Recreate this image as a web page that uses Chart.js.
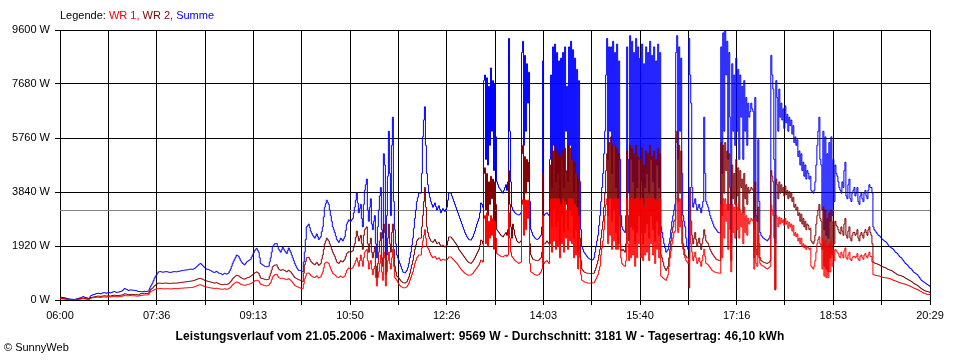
<!DOCTYPE html>
<html>
<head>
<meta charset="utf-8">
<script src="https://cdn.jsdelivr.net/npm/chart.js"></script>
<style>
html,body{margin:0;padding:0;background:#ffffff;}
#c{display:block;}
</style>
</head>
<body>
<canvas id="c" width="960" height="360"></canvas>
<script>
// ---------- data ----------
const xTickLabels = ['06:00','07:36','09:13','10:50','12:26','14:03','15:40','17:16','18:53','20:29'];
const dayMinutes = 869;        // 06:00 .. 20:29
const xGridIntervals = 18;
const sampleStepMin = 1;       // one value per minute, starting 06:00
const yMaxW = 9600;
const yStepW = 1920;
const dateStr = '21.05.2006';
const maxW = 9569;
const avgW = 3181;
const yieldKWh = '46,10';

// WR 1 (W), one line = 30 minutes
const wr1 = [
40,40,40,38,35,30,25,20,15,12,10,10,10,10,10,15,20,25,30,32,35,42,50,52,45,40,35,30,25,30,
60,70,80,85,90,95,100,100,100,95,90,100,110,110,110,105,100,110,120,115,110,115,120,125,130,120,110,115,120,120,
120,130,140,150,160,155,150,150,150,155,160,155,150,150,150,145,140,140,140,150,160,165,170,175,180,180,180,185,190,250,
300,315,330,350,370,385,400,400,400,405,410,405,400,400,400,400,400,400,400,395,390,395,400,405,410,405,400,405,410,415,
420,420,420,425,430,430,430,435,440,440,440,445,450,460,470,485,500,515,530,535,540,525,510,495,480,470,460,455,450,440,
430,425,420,415,410,415,420,410,400,395,390,385,380,390,400,390,380,390,400,425,450,500,540,570,600,620,640,630,620,590,
560,550,540,530,520,530,540,550,560,570,580,600,620,650,680,690,700,690,680,620,560,550,540,525,510,505,500,510,520,570,
620,720,820,860,900,910,920,860,800,780,760,770,780,765,750,735,720,740,760,730,700,660,620,570,520,500,480,465,450,435,
420,410,400,575,750,850,950,955,960,920,880,850,820,810,800,830,860,820,780,805,830,915,1000,1150,1300,1325,1350,1325,1300,1200,
1100,1025,950,925,900,860,820,810,800,825,850,825,800,825,850,950,1050,1095,1140,1120,1100,1125,1150,1225,1300,1400,1500,1350,1200,1400,
1600,1400,1200,1500,1700,1750,1800,1400,1100,1300,1400,1100,900,1100,1200,800,500,800,1000,1300,1600,1000,700,1700,1500,500,1000,1400,1700,1300,
1100,1500,1800,1200,800,750,700,630,560,520,480,460,440,435,430,450,470,530,600,700,800,900,1000,1150,1300,1400,1500,1550,1600,1600,
1600,1850,2100,2300,2500,2200,1900,1850,1780,1690,1600,1550,1500,1525,1550,1500,1450,1475,1500,1450,1400,1425,1450,1435,1420,1425,1430,1480,1530,1530,
1530,1490,1450,1415,1380,1340,1300,1250,1200,1150,1100,1060,1020,985,950,925,900,890,880,885,890,920,950,1000,1050,1100,1150,1200,1250,1330,
1420,1400,1350,2900,3000,2000,3100,1900,2800,2200,3000,2300,2900,1800,2800,2200,1650,1620,1600,1575,1550,1540,1530,1560,1580,1600,1550,1600,3100,2200,
1700,1550,1500,1450,1400,1375,1350,1325,1300,1325,1350,3400,3560,2300,3560,2500,3550,2900,3560,1300,1000,975,950,925,900,890,880,890,900,950,
1000,1100,3000,1300,1350,1375,1400,1350,1300,2000,3600,1700,3600,2100,3600,1800,3600,1900,3600,1500,3400,2000,3600,1700,3500,2200,3200,1800,3600,2100,
3600,2000,3600,1500,3400,1600,3300,1100,3000,1500,900,700,675,650,635,620,610,600,600,600,600,605,610,615,680,750,825,900,1050,1200,
1600,1850,2100,2500,3000,3400,3600,2000,3600,2300,3600,1800,3600,2100,3600,1800,3600,1800,3600,2000,1500,1300,1250,1220,1200,1400,3600,2000,1400,3600,
1500,3600,1600,3600,1200,3600,1500,3600,2000,3600,1500,3600,1400,3300,1600,3600,1700,3600,1400,3600,2000,3600,1600,3600,1300,3500,1800,3600,1500,3600,
850,820,780,750,720,700,800,900,1200,1500,1750,2000,2200,2400,2450,3600,3600,2400,3600,2600,3600,2000,1800,1600,1500,1400,1350,1300,1500,2800,
2000,1700,1400,1550,1700,1500,1300,1400,1500,1350,1200,1400,1600,1800,1550,1300,1275,1250,1200,1150,1100,1050,1025,1000,990,980,970,960,955,950,
3400,1500,3600,2200,3600,2800,3400,1800,3400,2500,1000,3400,2400,3300,2200,3450,2500,3300,2200,3200,2600,3100,2000,3300,2400,3000,2300,2900,2700,2800,
2900,2850,2800,1100,2900,1300,1200,2300,1500,1300,1250,1225,1200,1175,1150,1125,1100,1125,1150,1200,3380,3200,3000,2200,400,3000,2900,2600,2950,2700,
2900,2750,2850,2650,2900,2700,2800,2550,2750,2600,2700,2450,2650,2300,2400,2250,2350,2100,2200,2000,2200,1900,2000,1850,1950,1800,1900,1850,1800,1850,
1200,1150,1100,1200,1400,1700,2000,2150,2250,2000,1900,1100,2200,850,2100,800,1900,800,2000,1000,2100,1200,1800,1400,1800,1750,1700,1650,1550,1500,
1700,1600,1500,1750,1850,1500,1450,1600,1700,1450,1400,1500,1550,1550,1500,1550,1650,1450,1400,1550,1600,1500,1450,1600,1650,1550,1500,1600,1700,1550,
1550,1350,900,890,880,870,860,855,850,835,820,810,800,795,790,785,780,770,760,750,740,720,700,690,680,665,650,635,620,605,
600,590,580,570,560,545,530,515,500,485,470,450,430,415,400,385,370,350,330,310,290,270,250,235,220,210,200,195,190,180
];

// WR 2 (W)
const wr2 = [
55,55,50,48,45,40,35,30,25,22,20,18,15,12,10,15,20,25,30,38,45,52,60,65,55,50,45,40,35,40,
80,90,100,105,110,120,130,135,140,135,130,135,140,145,150,145,140,145,150,145,140,150,160,165,170,165,160,160,160,165,
170,175,180,200,220,215,210,200,190,195,200,200,200,195,190,190,190,185,180,200,220,225,230,235,240,235,230,235,240,300,
370,395,420,460,500,530,560,580,600,600,600,595,590,595,600,600,600,595,590,590,590,595,600,600,600,600,600,605,610,615,
620,625,630,635,640,645,650,655,660,665,670,675,680,690,700,715,730,745,760,765,770,755,740,720,700,690,680,670,660,650,
640,630,620,610,600,610,620,600,580,570,560,550,540,550,560,555,550,565,580,615,650,700,760,790,820,850,880,870,860,830,
800,780,760,750,740,760,780,790,800,820,840,870,900,930,960,980,1000,975,950,865,780,770,760,750,740,730,720,730,740,845,
950,1065,1180,1210,1240,1245,1250,1175,1100,1075,1050,1065,1080,1065,1050,1025,1000,1030,1060,1030,1000,950,900,850,800,780,760,740,720,710,
700,675,650,950,1250,1375,1500,1510,1520,1450,1380,1340,1300,1275,1250,1295,1340,1285,1230,1265,1300,1450,1600,1800,2000,2100,2200,2150,2100,2000,
1900,1800,1700,1625,1550,1450,1350,1325,1300,1350,1400,1375,1350,1400,1450,1550,1650,1685,1720,1710,1700,1725,1750,1875,2000,2225,2450,2275,2100,2200,
2300,2000,1800,2300,2500,2550,2600,2000,1700,2000,2200,1700,1500,1700,1900,1200,800,1300,1700,2100,2400,1500,1200,2700,2400,900,1600,2200,2700,2000,
1700,2400,2700,1800,1200,1000,850,820,780,730,680,650,620,610,600,620,650,730,820,950,1100,1250,1400,1600,1800,1950,2100,2150,2200,2200,
2200,2600,3000,3500,4000,3300,2600,2400,2250,2175,2100,2075,2050,2100,2150,2075,2000,2025,2050,1975,1900,1925,1950,1915,1880,1915,1950,2100,2240,2240,
2240,2195,2150,2100,2050,2000,1950,1875,1800,1750,1700,1650,1600,1550,1500,1450,1400,1365,1330,1315,1300,1340,1380,1440,1500,1575,1650,1725,1800,1950,
2130,2100,2000,4500,4700,3200,4500,3000,4200,3400,4400,3600,4300,2800,4200,3400,2500,2450,2400,2350,2300,2270,2240,2300,2350,2400,2300,2500,4600,3400,
2600,2200,2700,2500,2300,2200,2100,2060,2030,2060,2100,5200,5500,3500,5100,3800,5000,4200,4900,2000,1600,1520,1450,1430,1420,1410,1400,1410,1420,1460,
1500,1700,4500,2000,2000,2050,2100,2050,2000,3000,4800,2600,5300,3200,5500,2600,5300,2800,5200,2000,5100,3000,5300,2400,5400,3400,4600,2500,5500,3200,
5400,3000,5000,2200,4900,2500,4500,1700,4300,2200,1400,1100,1050,1000,980,960,955,950,945,940,940,945,950,960,1050,1150,1275,1400,1600,1800,
2200,2500,2800,3300,3800,4600,5200,3000,5600,3600,5800,2800,5500,3200,5500,2400,5400,2000,5200,3000,1800,1750,1800,1750,1700,2000,5300,3000,2100,5500,
2600,5400,2500,5200,2000,5500,2400,5100,3000,5000,2400,5400,2000,4800,2400,5300,2700,5200,2200,5500,3000,5100,2500,5300,2100,5000,2800,5400,2300,5200,
1600,1500,1350,1200,1120,1050,1120,1200,1500,1800,2100,2400,2600,2800,2850,5600,6000,3500,5500,3800,5300,2800,2000,1800,1600,1550,1500,1500,430,4000,
2800,2300,2000,2200,2400,2150,1900,2050,2200,2000,1800,2000,2200,2500,2300,2100,2050,2000,1900,1800,1725,1650,1600,1550,1500,1450,1430,1420,1410,1400,
5600,3000,5500,3800,5600,4600,5300,3200,5200,4000,1400,4800,3600,4500,3400,5000,3700,4700,3200,4600,4000,4300,3100,4500,3600,4100,3400,4000,3800,3900,
4000,3950,3900,1500,4200,1800,1600,3300,2000,1500,1400,1375,1350,1330,1320,1310,1300,1325,1350,1400,4600,4400,4200,3000,360,4300,4100,3600,4200,3800,
4100,3850,4000,3700,4050,3750,3900,3600,3850,3650,3800,3500,3650,3300,3400,3200,3300,3000,3100,2800,3050,2700,2900,2600,2800,2500,2700,2650,2500,2550,
2100,2050,2000,2100,2300,2700,3000,3200,3400,2900,2800,1800,3300,1200,3200,1100,2900,1000,3100,1500,3200,1600,2800,2000,2800,2650,2600,2500,2400,2350,
2600,2450,2300,2700,2900,2300,2200,2450,2600,2200,2100,2300,2400,2400,2300,2350,2500,2200,2100,2300,2400,2300,2200,2400,2500,2400,2300,2500,2600,2400,
2300,2000,1350,1320,1300,1290,1280,1265,1250,1225,1200,1185,1170,1160,1150,1125,1100,1085,1070,1060,1050,1025,1000,975,950,925,900,890,880,870,
860,840,830,805,780,760,740,720,700,680,660,630,600,580,560,540,520,490,460,430,400,380,360,340,320,310,300,290,280,260
];

// Summe (W)
const summe = [
95,95,90,85,80,70,60,50,40,35,30,28,25,22,20,25,40,50,60,70,80,95,110,120,100,90,80,70,60,70,
140,160,180,190,200,215,230,235,240,230,220,235,250,255,260,250,240,255,270,260,250,265,280,290,300,285,270,275,280,290,
300,315,330,370,410,395,380,360,340,350,360,355,350,345,340,335,330,315,300,300,300,295,290,300,310,305,300,310,320,400,
480,540,600,690,780,840,900,950,1000,1005,1010,1000,990,995,1000,1005,1010,1000,990,985,980,990,1000,1005,1010,1005,1000,1010,1020,1025,
1030,1040,1050,1055,1060,1065,1070,1075,1080,1090,1100,1095,1090,1105,1120,1150,1180,1215,1250,1280,1300,1265,1230,1190,1150,1125,1100,1090,1080,1065,
1050,1025,1000,990,980,1000,1020,990,960,950,940,920,900,925,950,935,920,940,960,1030,1100,1200,1300,1380,1450,1520,1600,1580,1550,1480,
1400,1350,1300,1275,1250,1300,1350,1375,1400,1425,1450,1525,1600,1675,1750,1800,1840,1770,1700,1500,1300,1275,1250,1225,1200,1190,1180,1190,1200,1350,
1500,1700,1900,1950,2000,2005,2010,1900,1800,1750,1700,1790,1880,1815,1750,1700,1650,1750,1850,1775,1700,1600,1500,1400,1300,1225,1150,1100,1050,1050,
1050,1020,1000,1350,1700,2150,2600,2650,2700,2575,2450,2375,2300,2250,2200,2275,2350,2250,2150,2200,2250,2425,2600,2950,3300,3425,3550,3475,3400,3200,
3000,2800,2600,2500,2400,2275,2150,2100,2050,2125,2200,2150,2100,2175,2250,2475,2700,2775,2850,2825,2800,2850,2900,3100,3300,3550,3800,3450,3100,3250,
3400,2900,2600,3400,3900,4100,4300,3200,2800,3300,3600,2700,2500,2800,3000,2000,1500,2600,3200,3700,4000,2500,2200,5200,4800,1600,3000,4400,6000,4500,
3000,5500,6500,3500,2500,2000,1600,1500,1400,1300,1200,1100,1000,980,960,1000,1050,1150,1300,1500,1700,1950,2200,2550,2900,3200,3500,3650,3800,3800,
3800,4500,5800,6400,6870,5500,4500,4100,3800,3650,3500,3400,3300,3375,3450,3325,3200,3275,3350,3225,3100,3175,3250,3200,3150,3225,3300,3550,3800,3800,
3800,3700,3600,3500,3400,3300,3200,3100,3000,2900,2800,2700,2600,2500,2400,2325,2250,2200,2150,2140,2130,2190,2250,2350,2450,2575,2700,2800,2900,3100,
3450,3400,3300,7800,8000,5000,7900,4800,7600,5500,8250,6000,7800,4600,7700,5800,4200,4100,4000,3950,3900,3850,3800,3900,4000,4100,3900,4200,9300,6000,
4200,3300,3200,3150,3100,3070,3050,3030,3020,3050,3100,8800,9200,5500,8700,6000,8400,7000,8100,3500,2500,2400,2300,2250,2200,2170,2150,2170,2200,2250,
2300,2600,8500,3000,3050,3080,3100,3050,3000,5000,8000,4000,9000,5500,9100,4200,8800,4500,8500,3500,8600,5000,8800,4000,9000,6000,7600,4200,9000,5500,
9200,5000,8900,3800,8600,4500,8200,3000,7800,4200,2500,1900,1800,1700,1650,1600,1550,1500,1470,1450,1430,1420,1440,1500,1700,1900,2100,2300,2650,3000,
3500,4000,4500,5200,6000,8000,9300,5000,9000,6000,9000,4500,9200,5500,8800,4000,9100,3500,8500,5000,3000,2600,2500,2450,2400,3000,9000,5000,3800,9400,
5000,9200,4200,8800,3600,9300,4000,9000,5000,8600,4200,9100,3500,8400,4000,9000,4500,8800,3800,9200,5000,8700,4200,9000,3600,8500,4800,9100,4000,8800,
2600,2400,2200,2000,1850,1700,1750,1800,2000,2200,2500,2800,3000,3200,3400,8800,9400,5000,9000,6000,8600,4500,3000,2800,2600,2200,1900,1800,9300,8000,
7000,4000,3300,3450,3600,3400,3200,3300,3400,3250,3100,3300,3500,6500,4500,3500,3400,3300,3150,3000,2900,2800,2700,2600,2550,2500,2450,2400,2390,2380,
9000,4500,9500,6000,9569,8000,9200,5000,8800,6500,2000,8400,6000,8000,5500,8600,6000,8200,5000,8000,6500,7600,5000,7800,6000,7200,5500,7000,6500,6700,
7000,6800,6700,2500,7200,3000,2800,5700,3500,2400,2300,2250,2200,2180,2150,2130,2100,2150,2200,2300,8700,8000,7500,5000,2000,7800,7200,6000,7500,6500,
7000,6400,6800,6100,6900,6300,6600,6000,6500,6200,6400,5900,6200,5600,5800,5500,5700,5100,5300,4800,5200,4600,4900,4400,4800,4300,4600,4500,4300,4400,
3900,3850,3800,3900,4200,4800,5500,6000,6500,5000,4800,3200,6000,2500,5800,2300,5200,2200,5600,2800,5800,3000,5000,3500,4800,4500,4400,4200,4000,3900,
3800,4200,4000,4600,4900,3700,3600,4100,4300,3600,3500,3800,3900,4000,3700,3800,4000,3500,3400,3700,3800,3600,3500,3800,3900,3700,3600,3900,4100,4000,
4000,3800,2600,2500,2450,2400,2350,2300,2280,2250,2200,2150,2130,2100,2080,2050,2000,1950,1900,1880,1850,1830,1800,1750,1700,1680,1650,1600,1550,1520,
1500,1450,1400,1350,1300,1275,1250,1200,1150,1125,1100,1050,1000,975,950,925,900,850,800,750,700,675,650,625,600,575,550,525,500,470
];

// ---------- texts ----------
const legendParts = [
  ['Legende: ', '#000000'],
  ['WR 1, ', '#ff0000'],
  ['WR 2, ', '#800000'],
  ['Summe', '#0000ff']
];
const titleText = 'Leistungsverlauf vom ' + dateStr + ' - Maximalwert: ' + maxW + ' W - Durchschnitt: ' + avgW + ' W - Tagesertrag: ' + yieldKWh + ' kWh';
const copyrightText = '\u00A9 SunnyWeb';

// ---------- chart ----------
const FONT = '"Liberation Sans", Arial, sans-serif';
Chart.defaults.font.family = FONT;
Chart.defaults.font.size = 11;
Chart.defaults.color = '#000000';

const toPoints = arr => arr.map((v, i) => ({ x: i * sampleStepMin, y: v }));

const bgPlugin = {
  id: 'bg',
  beforeDraw(chart) {
    const c = chart.ctx;
    c.save();
    c.fillStyle = '#ffffff';
    c.fillRect(0, 0, chart.width, chart.height);
    c.restore();
  }
};

const textPlugin = {
  id: 'texts',
  afterDraw(chart) {
    const c = chart.ctx;
    c.save();
    c.textBaseline = 'middle';
    c.textAlign = 'left';
    c.font = '11px ' + FONT;
    let x = 60;
    for (const [t, col] of legendParts) {
      c.fillStyle = col;
      c.fillText(t, x, 16);
      x += c.measureText(t).width;
    }
    c.fillStyle = '#000000';
    c.font = 'bold 12px ' + FONT;
    c.textAlign = 'center';
    if ('letterSpacing' in c) c.letterSpacing = '0.12px';
    c.fillText(titleText, 480, 337);
    if ('letterSpacing' in c) c.letterSpacing = '0px';
    c.font = '11px ' + FONT;
    c.textAlign = 'left';
    c.fillText(copyrightText, 4, 348);
    c.restore();
  }
};

new Chart(document.getElementById('c'), {
  type: 'line',
  data: {
    datasets: [
      { label: 'WR 1', data: toPoints(wr1), borderColor: '#ff0000', order: 0 },
      { label: 'WR 2', data: toPoints(wr2), borderColor: '#800000', order: 1 },
      { label: 'Summe', data: toPoints(summe), borderColor: '#0000ff', order: 2 },
      { label: 'Durchschnitt', data: [{ x: 0, y: avgW }, { x: dayMinutes, y: avgW }], borderColor: '#808080', order: 3, stepped: false }
    ]
  },
  options: {
    responsive: false,
    animation: false,
    devicePixelRatio: 1,
    layout: { padding: { top: 30, right: 30, left: 0, bottom: 0 } },
    elements: {
      point: { radius: 0, hoverRadius: 0 },
      line: { borderWidth: 1, tension: 0, stepped: true, fill: false }
    },
    plugins: {
      legend: { display: false },
      tooltip: { enabled: false },
      title: { display: false }
    },
    scales: {
      x: {
        type: 'linear',
        min: 0,
        max: dayMinutes,
        afterBuildTicks: s => {
          s.ticks = Array.from({ length: xGridIntervals + 1 }, (_, i) => ({ value: i * dayMinutes / xGridIntervals }));
        },
        afterFit: s => { s.height = 60; },
        ticks: {
          autoSkip: false, maxRotation: 0, minRotation: 0, padding: 4, color: '#000000',
          font: { size: 11 },
          callback: (v, i) => (i % 2 === 0 ? xTickLabels[i / 2] : '')
        },
        grid: { color: '#000000', lineWidth: 1, tickLength: 5, tickColor: '#000000', drawTicks: true },
        border: { color: '#000000', width: 1 }
      },
      y: {
        min: 0,
        max: yMaxW,
        afterFit: s => { s.width = 60; },
        ticks: { stepSize: yStepW, padding: 5, color: '#000000', font: { size: 11 }, callback: v => v + ' W' },
        grid: { color: '#000000', lineWidth: 1, tickLength: 5, tickColor: '#000000', drawTicks: true },
        border: { color: '#000000', width: 1 }
      }
    }
  },
  plugins: [bgPlugin, textPlugin]
});
</script>
</body>
</html>
